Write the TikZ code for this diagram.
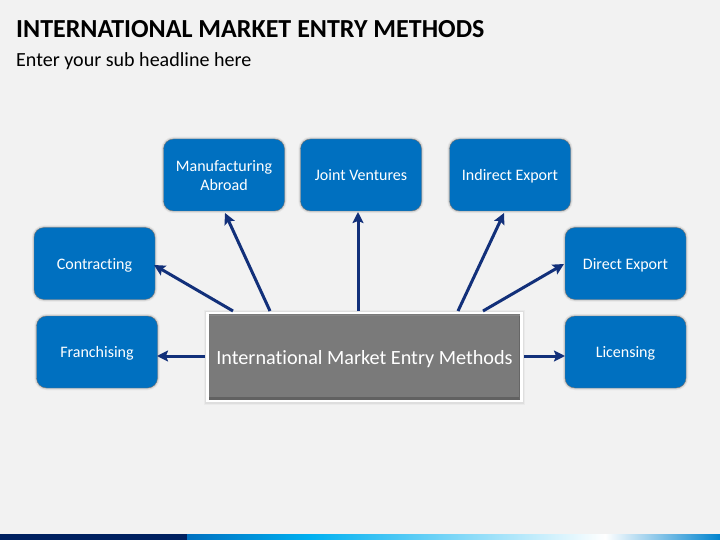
\documentclass[tikz,border=0pt]{standalone}
\usepackage{fontspec}
\setmainfont{Carlito}[Ligatures=NoCommon]
\usetikzlibrary{arrows.meta}
\definecolor{bgc}{HTML}{F2F2F2}
\definecolor{boxc}{HTML}{0070C0}
\definecolor{arrc}{HTML}{12307A}
\definecolor{navyc}{HTML}{002060}
\definecolor{cyanc}{HTML}{00B0F0}
\newcommand\itemstrut{\rule[-2.4pt]{0pt}{16.4pt}}
\newcommand\centerstrut{\rule[-3.4pt]{0pt}{21.4pt}}
\tikzset{
 itembox/.style={draw=black!55,line width=0.4pt,fill=boxc,rounded corners=10pt,minimum width=121pt,minimum height=72pt,text=white,font=\fontsize{16}{19}\selectfont,align=center,inner sep=0pt,
   preaction={draw=black,draw opacity=0.04,line width=4.5pt},
   preaction={draw=black,draw opacity=0.08,line width=2.8pt}},
 centerbox/.style={draw=white,line width=2.6pt,fill=black!52,minimum width=314pt,minimum height=88pt,text=white,font=\fontsize{20.2}{24}\selectfont,inner sep=0pt,
   preaction={draw=black,draw opacity=0.03,line width=7pt},
   preaction={draw=black,draw opacity=0.05,line width=5pt}},
 link/.style={draw=arrc,line width=3pt,-{Stealth[length=11pt,width=11pt,inset=2pt]}},
 titletext/.style={anchor=west,inner sep=0pt,font=\bfseries\fontsize{26}{30}\selectfont,text=black},
 subtext/.style={anchor=west,inner sep=0pt,font=\fontsize{20.05}{24}\selectfont,text=black}
}
\begin{document}
\begin{tikzpicture}[x=1pt,y=-1pt]
\useasboundingbox (0,0) rectangle (720,540);
\fill[bgc] (0,0) rectangle (720,540);
\node[titletext] (title) at (16,29) {INTERNATIONAL MARKET ENTRY METHODS};
\node[subtext] (sub) at (16,61.5) {Enter your sub headline here};
\node[centerbox] (c) at (364.5,357) {\centerstrut International Market Entry Methods};
\draw[black!62,line width=2.5pt] ([shift={(3,-4)}]c.south west) -- ([shift={(-3,-4)}]c.south east);
\draw[black!60,line width=1.2pt] ([shift={(-3.5,3)}]c.north east) -- ([shift={(-3.5,-3)}]c.south east);
\draw[black!48,line width=0.8pt] ([shift={(3,3.2)}]c.north west) -- ([shift={(-3,3.2)}]c.north east);
\node[itembox] (mfg) at (224,175) {\itemstrut Manufacturing\\\itemstrut Abroad};
\node[itembox] (jv) at (361,175) {\itemstrut Joint Ventures};
\node[itembox] (ind) at (510,175) {\itemstrut Indirect Export};
\node[itembox] (con) at (94.5,263.5) {\itemstrut Contracting};
\node[itembox] (dir) at (625.5,263.5) {\itemstrut Direct Export};
\node[itembox] (fra) at (97,352) {\itemstrut Franchising};
\node[itembox] (lic) at (625.5,352) {\itemstrut Licensing};
\coordinate (s1) at (233,311);
\coordinate (s2) at (270,311);
\coordinate (s3) at (358,311);
\coordinate (s4) at (458,311);
\coordinate (s5) at (483,311);
\coordinate (s6) at (205,356);
\coordinate (s7) at (524,356);
\coordinate (e1) at (154,265);
\coordinate (e2) at (225,213);
\coordinate (e3) at (358,212);
\coordinate (e4) at (504,213);
\coordinate (e5) at (564,264);
\coordinate (e6) at (157,356);
\coordinate (e7) at (565,356);
\draw[link] (s1) -- (e1);
\draw[link] (s2) -- (e2);
\draw[link] (s3) -- (e3);
\draw[link] (s4) -- (e4);
\draw[link] (s5) -- (e5);
\draw[link] (s6) -- (e6);
\draw[link] (s7) -- (e7);
\fill[navyc] (0,534) rectangle (187,540);
\shade[left color=boxc,right color=cyanc] (187,534) rectangle (310,540);
\shade[left color=cyanc,right color=white] (310,534) rectangle (605,540);
\shade[left color=white,right color=boxc!70!cyanc] (605,534) rectangle (720,540);
\end{tikzpicture}
\end{document}
